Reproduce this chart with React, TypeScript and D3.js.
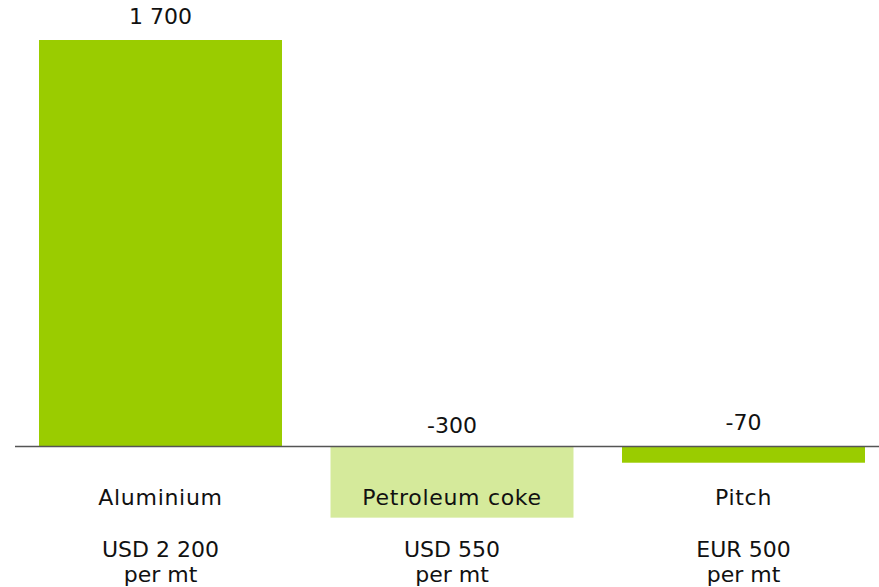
import React from "react";
import * as d3 from "d3";

const categories = ["Aluminium", "Petroleum coke", "Pitch"];
const values = [1700, -300, -70];
const valueLabels = ["1 700", "-300", "-70"];
const priceLabels = ["USD 2 200", "USD 550", "EUR 500"];
const unitLabels = ["per mt", "per mt", "per mt"];
const barColors = ["#9acc00", "#d5ea9b", "#9acc00"];

const W = 879;
const H = 587;

export default function App() {
  const x = d3
    .scaleBand<string>()
    .domain(categories)
    .range([14.75, 889.25])
    .paddingInner(0.1664)
    .paddingOuter(0.0832);
  const y = d3.scaleLinear().domain([-300, 1700]).range([517.65, 40]);
  const y0 = y(0);
  const font = "'DejaVu Sans', Verdana, sans-serif";
  const fs = 22;

  return (
    <svg
      width={W}
      height={H}
      style={{ position: "absolute", left: 0, top: 0, background: "#fff" }}
      fontFamily={font}
    >
      {categories.map((c, i) => {
        const v = values[i];
        const bx = x(c)!;
        const bw = x.bandwidth();
        const top = Math.min(y(v), y0);
        const h = Math.abs(y(v) - y0);
        const cx = bx + bw / 2;
        const labelY = v >= 0 ? y(v) - 16 : y0 - (v < -100 ? 13 : 16.5);
        return (
          <g key={c}>
            <rect x={bx} y={top} width={bw} height={h} fill={barColors[i]} />
            <text x={cx} y={labelY} textAnchor="middle" fontSize={fs} fill="#111">
              {valueLabels[i]}
            </text>
            <text x={cx} y={505} textAnchor="middle" fontSize={fs} fill="#111" letterSpacing={0.7}>
              {c}
            </text>
            <text x={cx} y={557} textAnchor="middle" fontSize={fs} fill="#111">
              {priceLabels[i]}
            </text>
            <text x={cx} y={582} textAnchor="middle" fontSize={fs} fill="#111">
              {unitLabels[i]}
            </text>
          </g>
        );
      })}
      <line x1={15} x2={W} y1={y0 + 0.5} y2={y0 + 0.5} stroke="#555" strokeWidth={1.5} />
    </svg>
  );
}
